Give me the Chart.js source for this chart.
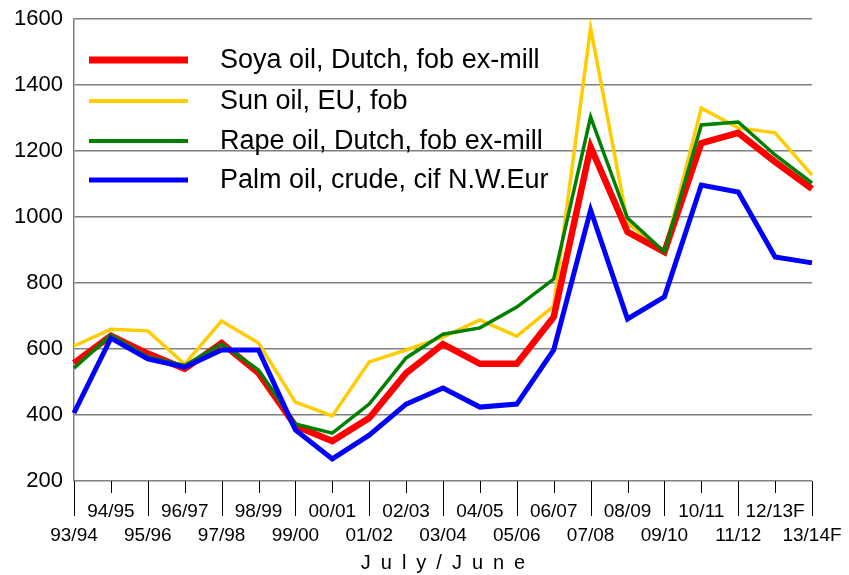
<!DOCTYPE html>
<html>
<head>
<meta charset="utf-8">
<script src="https://cdn.jsdelivr.net/npm/chart.js@4/dist/chart.umd.min.js"></script>
<style>
    body { margin: 0; background: #ffffff; }
    canvas { display: block; }
</style>
</head>
<body>
<canvas id="oilChart" width="849" height="575"></canvas>
<script>
// Marketing years, July/June
const seasons = ['93/94', '94/95', '95/96', '96/97', '97/98', '98/99', '99/00', '00/01', '01/02', '02/03',
    '03/04', '04/05', '05/06', '06/07', '07/08', '08/09', '09/10', '10/11', '11/12', '12/13F', '13/14F'];

const soyaOil = [557, 640, 586, 540, 618, 527, 367, 321, 391, 527, 615, 555, 555, 697, 1212, 955, 894, 1224, 1255, 1167, 1085];
const sunOil = [609, 660, 655, 554, 685, 618, 439, 397, 561, 597, 636, 688, 639, 730, 1573, 982, 894, 1330, 1270, 1255, 1127];
const rapeOil = [542, 642, 576, 550, 615, 536, 373, 345, 433, 573, 645, 664, 727, 812, 1303, 997, 894, 1279, 1288, 1188, 1103];
const palmOil = [406, 633, 570, 545, 597, 597, 355, 267, 339, 433, 482, 424, 433, 597, 1021, 691, 758, 1097, 1076, 879, 861];

const yMin = 200;
const yMax = 1600;
const yStep = 200;

const gridColor = '#7f7f7f';
const fontFamily = 'Arial, "Liberation Sans", sans-serif';

// Legend drawn inside the plot, top-left
const insideLegend = {
    id: 'insideLegend',
    afterDraw(chart) {
        const ctx = chart.ctx;
        const rows = [60, 101, 141, 180];
        const widths = [7, 4, 4, 5];
        ctx.save();
        ctx.font = '27px ' + fontFamily;
        ctx.textBaseline = 'middle';
        ctx.fillStyle = '#000000';
        chart.data.datasets.forEach((ds, i) => {
            ctx.strokeStyle = ds.borderColor;
            ctx.lineWidth = widths[i];
            ctx.beginPath();
            ctx.moveTo(89, rows[i]);
            ctx.lineTo(188, rows[i]);
            ctx.stroke();
            ctx.fillText(ds.label, 220, rows[i] + 1);
        });
        ctx.restore();
    }
};

// Tick marks below the category axis: short under the upper row, long under the lower row
const categoryTicks = {
    id: 'categoryTicks',
    afterDraw(chart) {
        const ctx = chart.ctx;
        const x = chart.scales.x;
        const bottom = chart.chartArea.bottom;
        ctx.save();
        ctx.strokeStyle = '#000000';
        ctx.lineWidth = 1;
        seasons.forEach((s, i) => {
            const px = Math.round(x.getPixelForValue(i)) + 0.5;
            ctx.beginPath();
            ctx.moveTo(px, bottom);
            ctx.lineTo(px, i % 2 === 0 ? 516 : 493);
            ctx.stroke();
        });
        ctx.restore();
    }
};

document.addEventListener('DOMContentLoaded', () => {
    const ctx = document.getElementById('oilChart').getContext('2d');

    new Chart(ctx, {
        type: 'line',
        data: {
            labels: seasons,
            datasets: [
                { label: 'Soya oil, Dutch, fob ex-mill', data: soyaOil, borderColor: '#ff0000', borderWidth: 6.5, order: 2 },
                { label: 'Sun oil, EU, fob', data: sunOil, borderColor: '#ffcc00', borderWidth: 3.5, order: 3 },
                { label: 'Rape oil, Dutch, fob ex-mill', data: rapeOil, borderColor: '#008000', borderWidth: 3.5, order: 1 },
                { label: 'Palm oil, crude, cif N.W.Eur', data: palmOil, borderColor: '#0000ff', borderWidth: 5, order: 0 }
            ]
        },
        options: {
            responsive: false,
            animation: false,
            elements: {
                point: { radius: 0 },
                line: { tension: 0, fill: false }
            },
            layout: {
                padding: { top: 19, right: 37, left: 0, bottom: 0 }
            },
            plugins: {
                legend: { display: false },
                tooltip: { enabled: false }
            },
            scales: {
                x: {
                    type: 'category',
                    offset: false,
                    grid: { display: false, drawTicks: false },
                    border: { display: false },
                    ticks: {
                        autoSkip: false,
                        maxRotation: 0,
                        padding: 19,
                        color: '#000000',
                        font: { family: fontFamily, size: 19, lineHeight: 24 / 19 },
                        callback: (value, i) => i % 2 === 0 ? ['', seasons[i]] : [seasons[i], '']
                    },
                    title: {
                        display: true,
                        text: 'J\u2002u\u2002l\u2002y\u2002/\u2002J\u2002u\u2002n\u2002e',
                        color: '#000000',
                        font: { family: fontFamily, size: 20 },
                        padding: { top: 0, bottom: 0 }
                    },
                    afterFit: (scale) => {
                        scale.height = 94;
                        scale.paddingLeft = 0;
                        scale.paddingRight = 0;
                    }
                },
                y: {
                    min: yMin,
                    max: yMax,
                    grid: { color: gridColor, lineWidth: 1.5, drawTicks: false },
                    border: { display: true, color: gridColor, width: 1.5 },
                    ticks: {
                        stepSize: yStep,
                        padding: 11,
                        color: '#000000',
                        font: { family: fontFamily, size: 22 },
                        callback: (value) => String(value)
                    },
                    afterFit: (scale) => {
                        scale.width = 74;
                        scale.paddingTop = 0;
                        scale.paddingBottom = 0;
                    }
                }
            }
        },
        plugins: [insideLegend, categoryTicks]
    });
});
</script>
</body>
</html>
